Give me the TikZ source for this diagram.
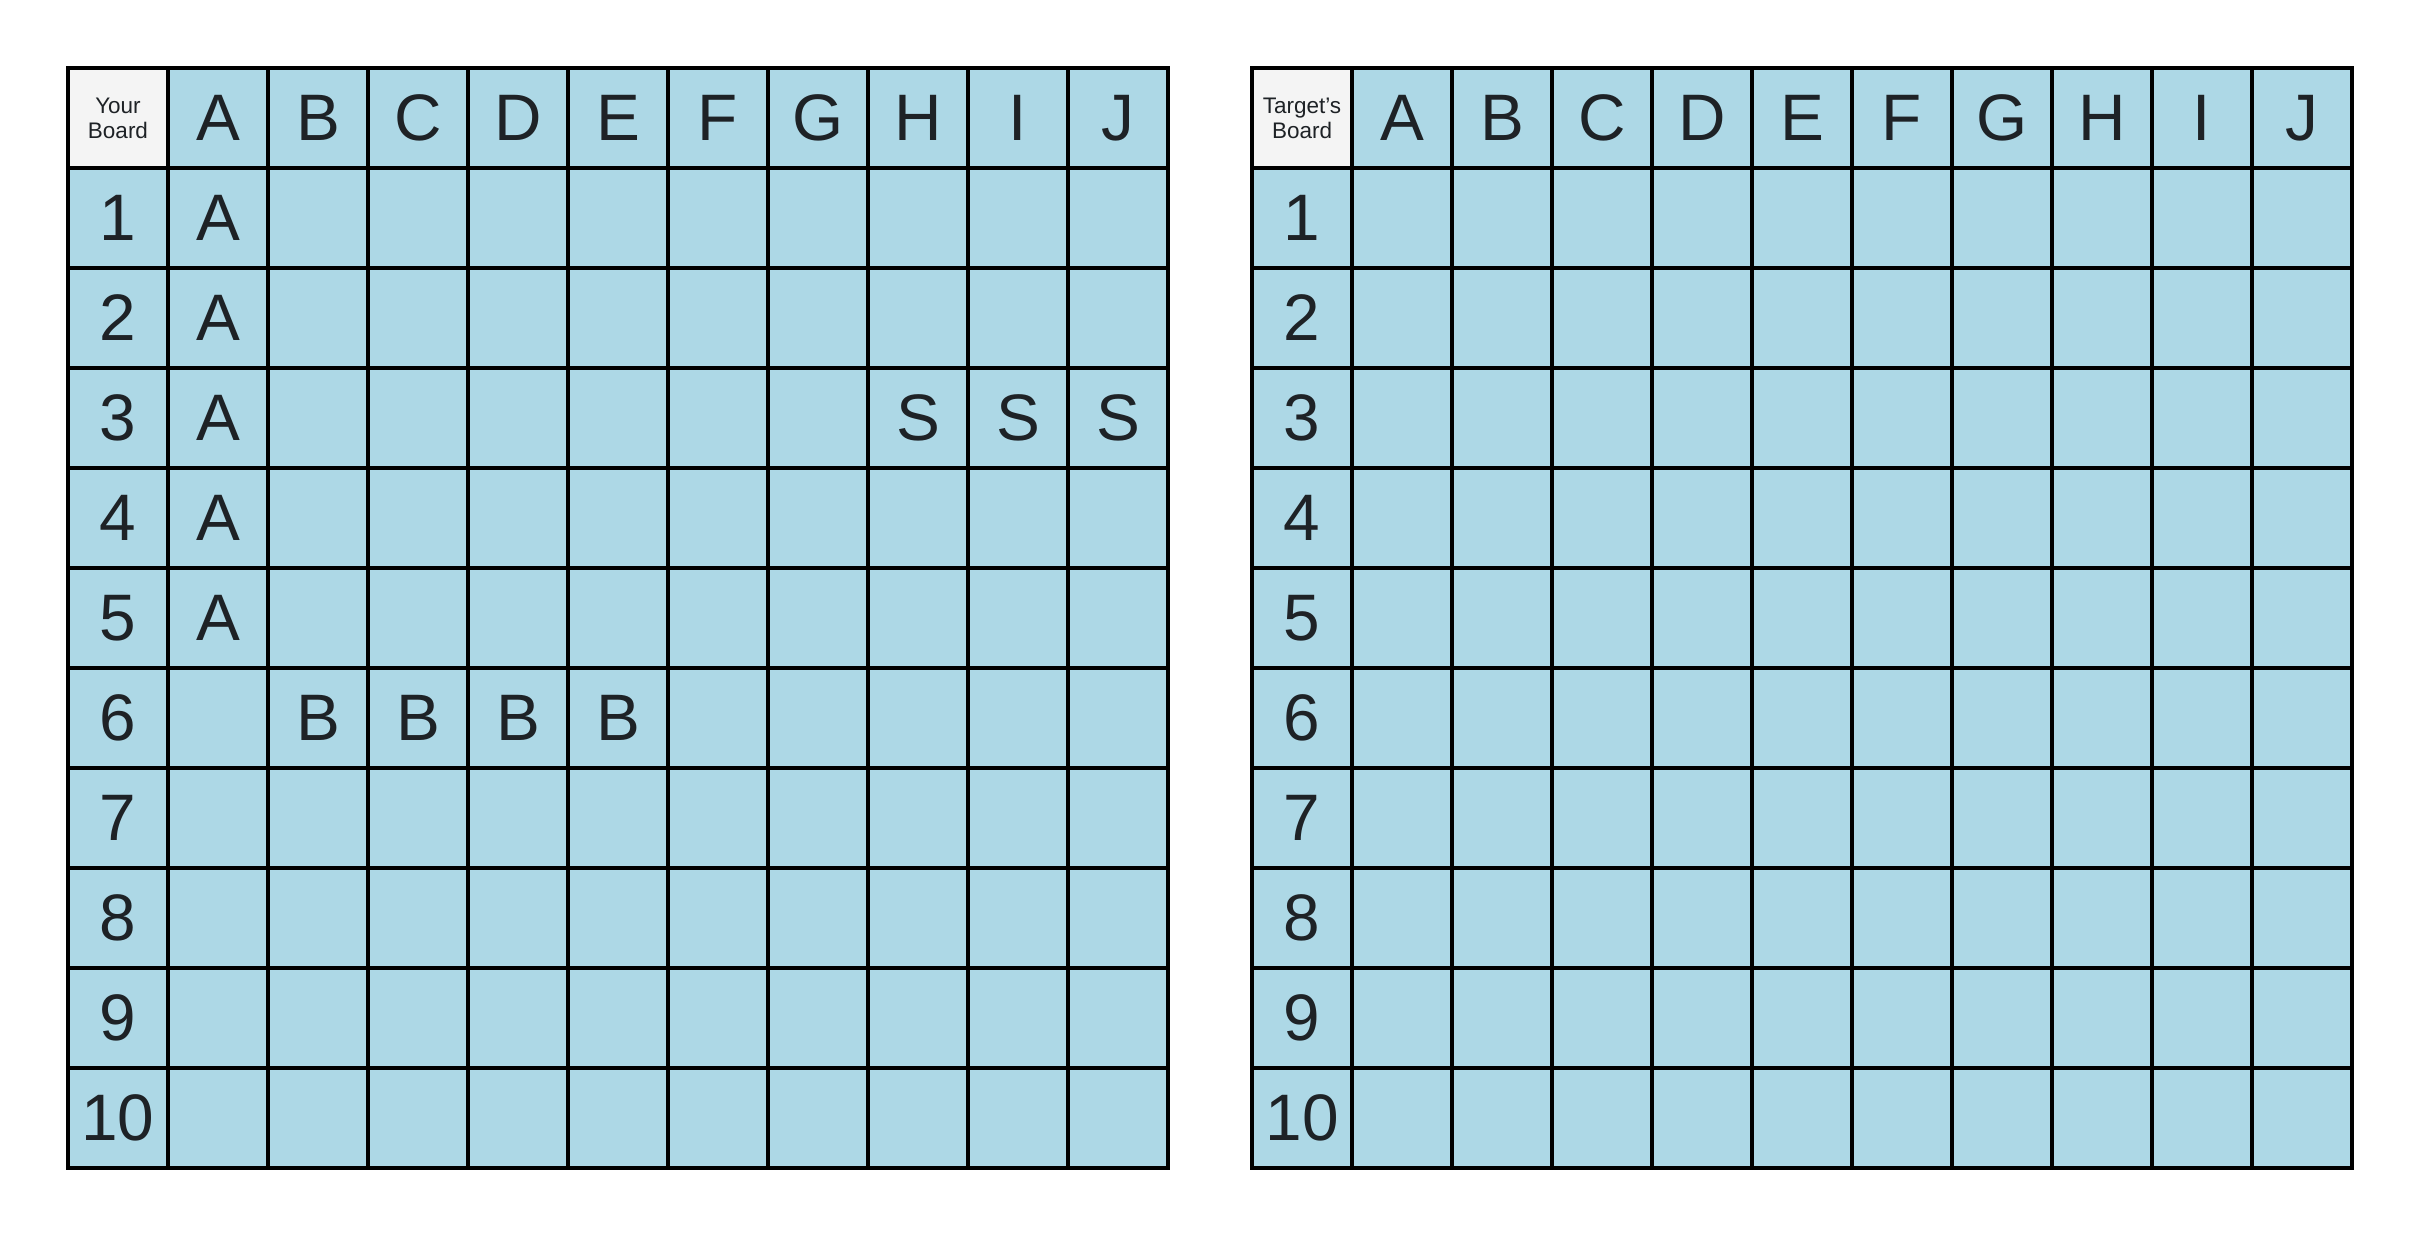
\documentclass[tikz,border=0pt]{standalone}
\usepackage{fontspec}
\setmainfont{Liberation Sans}
\definecolor{cellblue}{RGB}{173,216,230}
\definecolor{cornergray}{RGB}{244,244,244}
\definecolor{ink}{RGB}{30,34,38}
\newcommand\drawboard[3]{%
  \node[corner] (#1-0-0) at (#2+0.5,-1.18) {#3};
  \foreach \L [count=\c] in {A,B,C,D,E,F,G,H,I,J}
    \node[cell] (#1-0-\c) at (#2+0.5+\c,-1.18) {\L};
  \foreach \r in {1,...,10} {
    \node[cell] (#1-\r-0) at (#2+0.5,-1.18-\r) {\r};
    \foreach \c in {1,...,10}
      \node[cell] (#1-\r-\c) at (#2+0.5+\c,-1.18-\r) {};
  }%
}
\begin{document}
\begin{tikzpicture}[x=1cm,y=1cm,
  cell/.style={draw=black,line width=0.04cm,fill=cellblue,minimum size=1cm,
    inner sep=0pt,anchor=center,text=ink,font=\fontsize{18.7}{20}\selectfont},
  corner/.style={cell,fill=cornergray,align=center,font=\fontsize{6.4}{7.1}\selectfont},
  ship/.style={text=ink,inner sep=0pt,anchor=center,font=\fontsize{18.7}{20}\selectfont}]
\useasboundingbox (0,0) rectangle (24.3,-12.52);
\drawboard{L}{0.68}{Your\\Board}
\drawboard{R}{12.52}{Target\symbol{39}s\\Board}
% ships on your board
\foreach \r in {1,...,5} \node[ship] (shipA-\r) at (L-\r-1) {A};
\foreach \c in {8,9,10} \node[ship] (shipS-\c) at (L-3-\c) {S};
\foreach \c in {2,3,4,5} \node[ship] (shipB-\c) at (L-6-\c) {B};
\end{tikzpicture}
\end{document}
